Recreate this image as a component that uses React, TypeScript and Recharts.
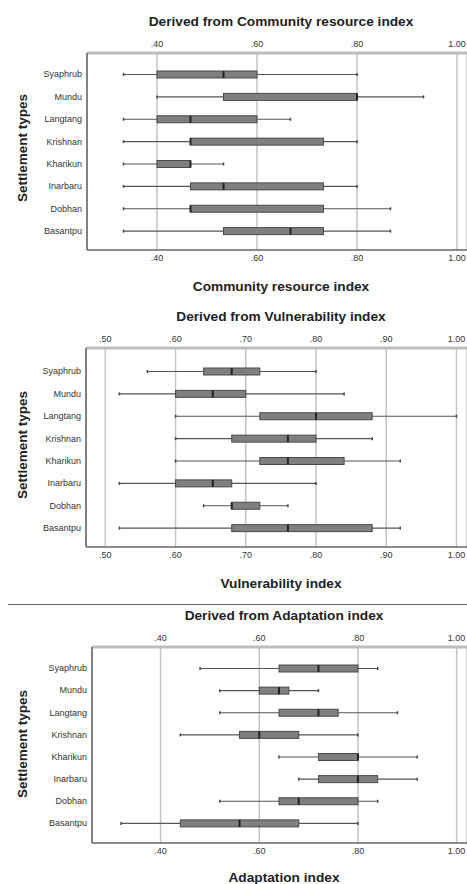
import React from "react";
import { ComposedChart, Bar, XAxis, YAxis, CartesianGrid } from "recharts";

const settlements = ["Syaphrub", "Mundu", "Langtang", "Krishnan", "Kharikun", "Inarbaru", "Dobhan", "Basantpu"];

// Community resource index
const crMin = [0.333, 0.4, 0.333, 0.333, 0.333, 0.333, 0.333, 0.333];
const crQ1 = [0.4, 0.533, 0.4, 0.467, 0.4, 0.467, 0.467, 0.533];
const crMedian = [0.533, 0.8, 0.467, 0.467, 0.467, 0.533, 0.467, 0.667];
const crQ3 = [0.6, 0.8, 0.6, 0.733, 0.467, 0.733, 0.733, 0.733];
const crMax = [0.8, 0.933, 0.667, 0.8, 0.533, 0.8, 0.867, 0.867];
const crTicks = [0.4, 0.6, 0.8, 1.0];

// Vulnerability index
const vuMin = [0.56, 0.52, 0.6, 0.6, 0.6, 0.52, 0.64, 0.52];
const vuQ1 = [0.64, 0.6, 0.72, 0.68, 0.72, 0.6, 0.68, 0.68];
const vuMedian = [0.68, 0.653, 0.8, 0.76, 0.76, 0.653, 0.68, 0.76];
const vuQ3 = [0.72, 0.7, 0.88, 0.8, 0.84, 0.68, 0.72, 0.88];
const vuMax = [0.8, 0.84, 1.0, 0.88, 0.92, 0.8, 0.76, 0.92];
const vuTicks = [0.5, 0.6, 0.7, 0.8, 0.9, 1.0];

// Adaptation index
const adMin = [0.48, 0.52, 0.52, 0.44, 0.64, 0.68, 0.52, 0.32];
const adQ1 = [0.64, 0.6, 0.64, 0.56, 0.72, 0.72, 0.64, 0.44];
const adMedian = [0.72, 0.64, 0.72, 0.6, 0.8, 0.8, 0.68, 0.56];
const adQ3 = [0.8, 0.66, 0.76, 0.68, 0.8, 0.84, 0.8, 0.68];
const adMax = [0.84, 0.72, 0.88, 0.8, 0.92, 0.92, 0.84, 0.8];
const adTicks = [0.4, 0.6, 0.8, 1.0];

const FONT = "'Liberation Sans', Arial, sans-serif";
const BAR = 7;

function buildRows(min: number[], q1: number[], med: number[], q3: number[], max: number[]) {
  return settlements.map((name, i) => ({
    name,
    min: min[i],
    q1: q1[i],
    median: med[i],
    q3: q3[i],
    max: max[i],
    range: [min[i], max[i]],
  }));
}

// whisker + box + median, positions interpolated from the bar's own scaled range
const BoxShape = (props: any) => {
  const { x, y, width, height, payload } = props;
  const lo = payload.min;
  const hi = payload.max;
  const px = (v: number) => x + ((v - lo) / (hi - lo)) * width;
  const cy = y + height / 2;
  const x1 = px(payload.q1);
  const x3 = px(payload.q3);
  const xm = px(payload.median);
  return (
    <g>
      <line x1={x} x2={x + width} y1={cy} y2={cy} stroke="#555" strokeWidth={1.2} />
      <line x1={x} x2={x} y1={cy - 1.5} y2={cy + 1.5} stroke="#444" strokeWidth={1.5} />
      <line x1={x + width} x2={x + width} y1={cy - 1.5} y2={cy + 1.5} stroke="#444" strokeWidth={1.5} />
      <rect x={x1} y={y} width={Math.max(x3 - x1, 0.5)} height={height} fill="#7f7f7f" stroke="#4a4a4a" strokeWidth={1} />
      <line x1={xm} x2={xm} y1={y} y2={y + height} stroke="#222" strokeWidth={2} />
    </g>
  );
};

const Empty = () => <g />;

const fmt = (v: number) => (v >= 1 ? v.toFixed(2) : v.toFixed(2).replace(/^0/, ""));

interface PanelProps {
  top: number;
  height: number;
  plotTop: number;
  plotBottom: number;
  left: number;
  domain: [number, number];
  ticks: number[];
  rows: any[];
  pad: { top: number; bottom: number };
  title: string;
  titleX: number;
  axisTitle: string;
  axisTitleX: number;
  axisTitleY: number;
  yTitleY: number;
}

function Panel(p: PanelProps) {
  const axisH = 30;
  const mTop = p.plotTop - axisH;
  const mBottom = p.height - p.plotBottom - axisH;
  const tickStyle = { fontSize: 9, fill: "#333", fontFamily: FONT };
  const bold = { whiteSpace: "nowrap" as const, fontFamily: FONT, fontWeight: "bold" as const, color: "#222" };
  return (
    <div style={{ position: "absolute", left: 0, top: p.top, width: 467, height: p.height }}>
      <div style={{ ...bold, position: "absolute", left: p.titleX, top: 14, transform: "translateX(-50%)", fontSize: 13.7, lineHeight: "16px" }}>
        {p.title}
      </div>
      <div
        style={{ ...bold, position: "absolute", left: 22, top: p.yTitleY, transform: "translate(-50%, -50%) rotate(-90deg)", fontSize: 13.5, lineHeight: "15px" }}
      >
        Settlement types
      </div>
      <div style={{ ...bold, position: "absolute", left: p.axisTitleX, top: p.axisTitleY - 8, transform: "translateX(-50%)", fontSize: 13.7, lineHeight: "16px" }}>
        {p.axisTitle}
      </div>
      <ComposedChart
        width={467}
        height={p.height}
        layout="vertical"
        data={p.rows}
        barGap={-BAR}
        margin={{ top: mTop, bottom: mBottom, left: 0, right: 0 }}
        style={{ position: "absolute", left: 0, top: 0 }}
      >
        <CartesianGrid xAxisId="bottom" horizontal={false} vertical stroke="#c4c4c4" strokeWidth={1.5} />
        <XAxis
          xAxisId="top"
          orientation="top"
          type="number"
          domain={p.domain}
          ticks={p.ticks}
          tickFormatter={fmt}
          height={axisH}
          tick={tickStyle}
          tickLine={false}
          tickSize={0}
          tickMargin={6}
          axisLine={{ stroke: "#bdbdbd", strokeWidth: 3 }}
        />
        <XAxis
          xAxisId="bottom"
          orientation="bottom"
          type="number"
          domain={p.domain}
          ticks={p.ticks}
          tickFormatter={fmt}
          height={axisH}
          tick={tickStyle}
          tickLine={false}
          tickSize={0}
          tickMargin={5}
          axisLine={{ stroke: "#666", strokeWidth: 1.5 }}
        />
        <YAxis
          type="category"
          dataKey="name"
          width={p.left}
          padding={p.pad}
          tick={tickStyle}
          tickLine={false}
          tickSize={0}
          tickMargin={5}
          axisLine={{ stroke: "#666", strokeWidth: 1.5 }}
        />
        <Bar xAxisId="top" dataKey="range" barSize={BAR} shape={Empty} isAnimationActive={false} />
        <Bar xAxisId="bottom" dataKey="range" barSize={BAR} shape={BoxShape} isAnimationActive={false} />
      </ComposedChart>
    </div>
  );
}

export default function App() {
  const crRows = buildRows(crMin, crQ1, crMedian, crQ3, crMax);
  const vuRows = buildRows(vuMin, vuQ1, vuMedian, vuQ3, vuMax);
  const adRows = buildRows(adMin, adQ1, adMedian, adQ3, adMax);
  return (
    <div style={{ position: "absolute", left: 0, top: 0, width: 467, height: 884, background: "#fff", overflow: "hidden" }}>
      <Panel
        top={0} height={300} plotTop={53} plotBottom={250} left={87}
        domain={[0.26, 1.02]} ticks={crTicks} rows={crRows} pad={{ top: 10, bottom: 8 }}
        title="Derived from Community resource index" titleX={281}
        axisTitle="Community resource index" axisTitleX={281} axisTitleY={287} yTitleY={148}
      />
      <Panel
        top={295} height={300} plotTop={53} plotBottom={252} left={86}
        domain={[0.4725, 1.015]} ticks={vuTicks} rows={vuRows} pad={{ top: 12, bottom: 8 }}
        title="Derived from Vulnerability index" titleX={281}
        axisTitle="Vulnerability index" axisTitleX={281} axisTitleY={289} yTitleY={150}
      />
      <div style={{ position: "absolute", left: 8, top: 604, width: 459, height: 1, background: "#666" }} />
      <Panel
        top={594} height={290} plotTop={53} plotBottom={249} left={92}
        domain={[0.261, 1.021]} ticks={adTicks} rows={adRows} pad={{ top: 10, bottom: 9 }}
        title="Derived from Adaptation index" titleX={284}
        axisTitle="Adaptation index" axisTitleX={284} axisTitleY={284} yTitleY={150}
      />
    </div>
  );
}
